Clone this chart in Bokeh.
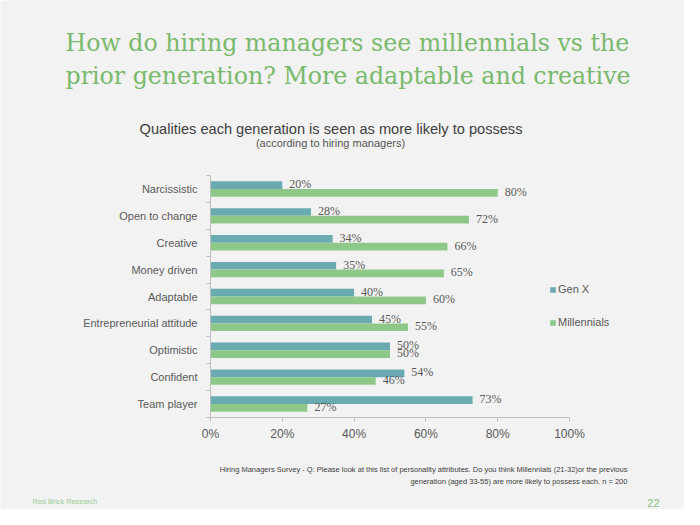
from bokeh.plotting import figure
from bokeh.models import (Range1d, FixedTicker, ColumnDataSource, LabelSet, Label,
                          Legend, LegendItem)
from bokeh.embed import file_html
from bokeh.resources import INLINE

# ---------------- data ----------------
categories = ["Narcissistic", "Open to change", "Creative", "Money driven", "Adaptable",
              "Entrepreneurial attitude", "Optimistic", "Confident", "Team player"]
gen_x = [20, 28, 34, 35, 40, 45, 50, 54, 73]
millennials = [80, 72, 66, 65, 60, 55, 50, 46, 27]
x_ticks = [0, 20, 40, 60, 80, 100]
x_tick_labels = ["0%", "20%", "40%", "60%", "80%", "100%"]
series_names = ["Gen X", "Millennials"]

title_lines = ["How do hiring managers see millennials vs the",
               "prior generation? More adaptable and creative"]
subtitle = "Qualities each generation is seen as more likely to possess"
subtitle2 = "(according to hiring managers)"
note_lines = ["Hiring Managers Survey - Q:  Please look at this list of personality attributes. Do you think Millennials (21-32)or the previous",
              "generation (aged 33-55) are more likely to possess each.  n = 200"]
source_text = "Red Brick Research"
page_no = "22"

# ---------------- style / layout ----------------
TEAL = "#6aabb2"
GREEN = "#8dc889"
TITLE_GREEN = "#78b96b"
TXT = "#595959"
AXIS = "#bfbfbf"
BG = "#f2f2f2"
SANS = "Liberation Sans"

W, H = 684, 509
# plot area (in figure pixels): where 0..100 % and the category band lie
AX_L, AX_R = 210, 569      # x pixel of 0% and 100%
AX_T, AX_B = 175, 417      # y pixel (from top) of top and bottom of category band

n = len(categories)
px_x = (AX_R - AX_L) / 100.0
px_y = (AX_B - AX_T) / n
x_range = Range1d(-AX_L / px_x, 100 + (W - AX_R) / px_x)
y_range = Range1d(-(H - AX_B) / px_y, n + AX_T / px_y)

pos = [n - 1 - i + 0.5 for i in range(n)]
bar_h = 0.286
src = ColumnDataSource(dict(
    cat=categories,
    genx=gen_x,
    mill=millennials,
    y_g=[p_ + bar_h / 2 for p_ in pos],
    y_m=[p_ - bar_h / 2 for p_ in pos],
    lab_g=[f"{v}%" for v in gen_x],
    lab_m=[f"{v}%" for v in millennials],
))

p = figure(width=W, height=H, output_backend="svg", toolbar_location=None,
           x_range=x_range, y_range=y_range,
           min_border=0, min_border_left=0, min_border_right=0,
           min_border_top=0, min_border_bottom=0)
p.background_fill_color = BG
p.border_fill_color = BG
p.outline_line_color = None
p.xgrid.grid_line_color = None
p.ygrid.grid_line_color = None

r_g = p.hbar(y="y_g", right="genx", left=0, height=bar_h, source=src,
             fill_color=TEAL, line_color=None)
r_m = p.hbar(y="y_m", right="mill", left=0, height=bar_h, source=src,
             fill_color=GREEN, line_color=None)

# value labels
for ycol, xcol, lcol in [("y_g", "genx", "lab_g"), ("y_m", "mill", "lab_m")]:
    p.add_layout(LabelSet(x=xcol, y=ycol, text=lcol, source=src, x_offset=7, y_offset=1,
                          text_baseline="middle", text_font=SANS,
                          text_font_size="12px", text_color=TXT))

# axes pinned inside the frame
xa = p.xaxis[0]
xa.fixed_location = 0
xa.bounds = (0, 100)
xa.ticker = FixedTicker(ticks=x_ticks)
xa.major_label_overrides = {float(t): l for t, l in zip(x_ticks, x_tick_labels)}
xa.axis_line_color = AXIS
xa.major_tick_line_color = AXIS
xa.major_tick_in = 0
xa.major_tick_out = 4
xa.minor_tick_line_color = None
xa.major_label_text_font = SANS
xa.major_label_text_font_size = "12px"
xa.major_label_text_color = TXT
xa.major_label_standoff = 5

ya = p.yaxis[0]
ya.fixed_location = 0
ya.bounds = (0, n)
ya.ticker = FixedTicker(ticks=pos, minor_ticks=list(range(n + 1)))
ya.major_label_overrides = {float(v): c for v, c in zip(pos, categories)}
ya.axis_line_color = AXIS
ya.major_tick_line_color = None
ya.major_tick_in = 0
ya.major_tick_out = 0
ya.minor_tick_line_color = AXIS
ya.minor_tick_in = 0
ya.minor_tick_out = 4
ya.major_label_text_font = SANS
ya.major_label_text_font_size = "11px"
ya.major_label_text_color = TXT
ya.major_label_standoff = 9

# legend
legend = Legend(items=[LegendItem(label=series_names[0], renderers=[r_g]),
                       LegendItem(label=series_names[1], renderers=[r_m])],
                location=(549, 177), orientation="vertical",
                glyph_width=7, glyph_height=7, label_standoff=2, spacing=13,
                label_height=20, padding=0, margin=0,
                background_fill_alpha=0, border_line_color=None,
                label_text_font=SANS, label_text_font_size="11px",
                label_text_color=TXT)
p.add_layout(legend)

# texts (screen px: x from left, y up from bottom of the figure)
def lab(text, x, y, size, color, font=SANS, align="left"):
    p.add_layout(Label(x=x, y=y, x_units="screen", y_units="screen", text=text,
                       text_font=font, text_font_size=size, text_color=color,
                       text_align=align, text_baseline="alphabetic"))

lab(title_lines[0], 65, 467, "23.7px", TITLE_GREEN, font="DejaVu Serif")
lab(title_lines[1], 65, 434, "23.7px", TITLE_GREEN, font="DejaVu Serif")
lab(subtitle, 330.5, 381, "14.6px", "#404040", align="center")
lab(subtitle2, 330, 367, "11px", "#555555", align="center")
lab(note_lines[0], 629, 40, "7.5px", "#404040", align="right")
lab(note_lines[1], 629, 28, "7.5px", "#404040", align="right")
lab(source_text, 32, 8, "7.3px", "#9acb92")
lab(page_no, 659, 7, "11px", "#8cc084", align="right")

open("out.html", "w").write(file_html(p, INLINE))
